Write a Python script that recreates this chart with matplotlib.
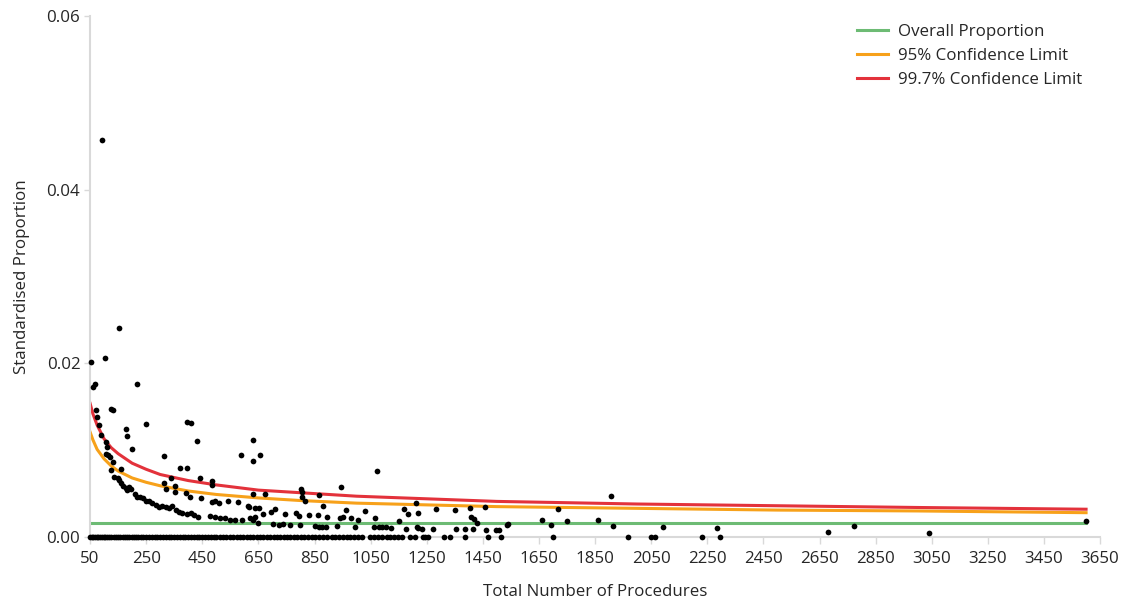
import matplotlib
matplotlib.use("Agg")
import matplotlib.pyplot as plt
from matplotlib.ticker import FormatStrFormatter

plt.rcParams['font.family'] = ['Open Sans', 'DejaVu Sans']

# units with at least one event: (total procedures, standardised proportion)
hosp_n = [93, 153, 103, 54, 62, 67, 217, 70, 126, 133, 73, 82, 88, 106, 112, 106, 114, 121,
          130, 124, 136, 148, 153, 159, 168, 177, 189, 183, 195,
          177, 183, 201, 249, 314, 371, 395, 397, 409, 430, 159, 314, 321, 340, 354, 354,
          391, 406, 441, 446, 483, 483, 483, 497, 509, 543, 576, 589, 614, 632, 632, 655,
          210, 216, 228, 240, 248, 260, 272, 284, 296, 308, 320, 332, 343, 355, 367, 379,
          397, 409, 421, 433, 479, 497, 514, 532, 550, 568, 591, 621,
          630, 672, 617, 638, 652, 638, 632, 650, 665, 694, 710, 701, 725, 736, 745, 763,
          784, 793, 798, 801, 807, 807, 817, 831, 851, 866, 878, 892, 861, 866, 880, 893,
          931, 943, 941, 950, 962, 980, 995, 1005, 1029, 1065, 1072, 1062, 1080, 1091, 1103,
          1124, 1152, 1170, 1176, 1184, 1213, 1217,
          1218, 1282, 1351, 1405, 1456, 1409, 1417, 1429, 1220, 1232, 1273, 1356, 1385, 1415,
          1460, 1497, 1509, 1535, 1541, 1660, 1693, 1717, 1749,
          1861, 1905, 1915, 2093, 2283, 2680, 2773, 3039, 3599]
hosp_p = [0.0457, 0.0241, 0.0206, 0.0202, 0.0173, 0.0176, 0.0176, 0.0146, 0.0147, 0.0146,
          0.0138, 0.0129, 0.0117, 0.0110, 0.0104, 0.0096, 0.0094, 0.0092,
          0.0086, 0.0077, 0.0069, 0.0068, 0.0066, 0.0062, 0.0059, 0.0056, 0.0058, 0.0054, 0.0055,
          0.0125, 0.0116, 0.0101, 0.0130, 0.0093, 0.0080, 0.0080, 0.0133, 0.0131, 0.0111,
          0.0078, 0.0062, 0.0055, 0.0068, 0.0059, 0.0052,
          0.0051, 0.0046, 0.0068, 0.0045, 0.0064, 0.0060, 0.0040, 0.0041, 0.0039, 0.0041,
          0.0040, 0.0094, 0.0036, 0.0112, 0.0088, 0.0094,
          0.0050, 0.0046, 0.0046, 0.0045, 0.0042, 0.0041, 0.0039, 0.0037, 0.0035, 0.0036,
          0.0035, 0.0033, 0.0036, 0.0031, 0.0029, 0.0028,
          0.0027, 0.0028, 0.0025, 0.0023, 0.0024, 0.0023, 0.0022, 0.0022, 0.0020, 0.0020,
          0.0020, 0.0022,
          0.0050, 0.0050, 0.0035, 0.0033, 0.0033, 0.0023, 0.0020, 0.0016, 0.0026, 0.0029,
          0.0032, 0.0015, 0.0014, 0.0015, 0.0026, 0.0014,
          0.0028, 0.0024, 0.0014, 0.0055, 0.0052, 0.0046, 0.0041, 0.0025, 0.0013, 0.0012,
          0.0012, 0.0012, 0.0025, 0.0048, 0.0036, 0.0023,
          0.0013, 0.0058, 0.0022, 0.0023, 0.0031, 0.0022, 0.0012, 0.0020, 0.0030, 0.0022,
          0.0076, 0.0011, 0.0011, 0.0011, 0.0011,
          0.0010, 0.0018, 0.0032, 0.0009, 0.0026, 0.0039, 0.0011,
          0.0028, 0.0032, 0.0031, 0.0033, 0.0035, 0.0023, 0.0021, 0.0016, 0.0010, 0.0009,
          0.0009, 0.0009, 0.0009, 0.0009,
          0.0008, 0.0008, 0.0008, 0.0014, 0.0015, 0.0020, 0.0014, 0.0032, 0.0018,
          0.0020, 0.0047, 0.0013, 0.0011, 0.0010, 0.0006, 0.0013, 0.0005, 0.0019]

# units with no events (plotted at 0)
zero_n = [50, 56, 62, 68, 74, 80, 86, 92, 98, 104, 110, 118, 126, 134, 142, 150, 158, 166,
          174, 182, 190, 198, 206, 214, 222, 230, 240, 250, 260, 270, 280, 290, 300, 310,
          320, 330, 340, 350, 360, 370, 380, 390, 400, 410, 420, 430, 440, 450, 460, 470,
          480, 490, 500, 512, 524, 536, 548, 560, 572, 584, 596, 608, 620, 632, 644, 656,
          668, 680, 692, 704, 716, 728, 740, 752, 764, 776, 788, 800, 812, 826, 840, 852,
          866, 880, 896, 911, 923, 937, 951, 965, 977, 991, 1005, 1018, 1048, 1062, 1076,
          1090, 1107, 1120, 1134, 1147, 1160, 1190, 1208, 1237, 1244, 1254, 1313, 1333,
          1386, 1469, 1514, 1701, 1968, 2049, 2064, 2230, 2295]

# control limits
limit_n = [50, 60, 75, 100, 125, 150, 200, 250, 300, 400, 500, 650, 800, 1000, 1250,
           1500, 2000, 2500, 3000, 3600]
limit_95 = [0.0121, 0.0112, 0.0101, 0.0090, 0.0082, 0.0076, 0.0068, 0.0063, 0.0059, 0.0053,
            0.0049, 0.0045, 0.0042, 0.0039, 0.0037, 0.0035, 0.0033, 0.0031, 0.0030, 0.0028]
limit_997 = [0.0154, 0.0142, 0.0129, 0.0113, 0.0103, 0.0096, 0.0085, 0.0078, 0.0072, 0.0065,
             0.0060, 0.0054, 0.0051, 0.0047, 0.0044, 0.0041, 0.0038, 0.0036, 0.0034, 0.0032]
overall_n = [50, 3600]
overall_p = [0.0016, 0.0016]

FS = 12.2
TXT = '#262626'

fig = plt.figure(figsize=(11.26, 6.01), dpi=100)
ax = fig.add_axes([0.080, 0.1065, 0.897, 0.8665])

ax.plot(overall_n, overall_p, color='#6dbb74', lw=2.2, label='Overall Proportion', zorder=2)
ax.plot(limit_n, limit_95, color='#f7a11a', lw=2.2, label='95% Confidence Limit', zorder=2)
ax.plot(limit_n, limit_997, color='#e3323b', lw=2.2, label='99.7% Confidence Limit', zorder=2)

ax.scatter(hosp_n + zero_n, hosp_p + [0] * len(zero_n), s=17, color='black',
           zorder=3, clip_on=False, linewidths=0)

ax.set_xlim(50, 3650)
ax.set_ylim(0, 0.06)
ax.set_xticks(range(50, 3651, 200))
ax.set_yticks([0, 0.02, 0.04, 0.06])
ax.yaxis.set_major_formatter(FormatStrFormatter('%.2f'))

for side in ['top', 'right']:
    ax.spines[side].set_visible(False)
ax.spines['left'].set_color('#d9d9d9')
ax.spines['left'].set_linewidth(1.5)
ax.spines['bottom'].set_color('#d9d9d9')
ax.spines['bottom'].set_linewidth(1.5)
ax.tick_params(axis='x', colors='#d9d9d9', length=5, width=1, labelcolor=TXT,
               labelsize=FS, pad=5)
ax.tick_params(axis='y', colors='#d9d9d9', length=4, width=1, labelcolor=TXT,
               labelsize=FS, pad=3)

ax.set_xlabel('Total Number of Procedures', fontsize=FS, color=TXT, labelpad=12)
ax.set_ylabel('Standardised Proportion', fontsize=FS, color=TXT, labelpad=12)

ax.legend(loc='upper left', bbox_to_anchor=(0.748, 0.985), bbox_transform=fig.transFigure,
          frameon=False, fontsize=FS, handlelength=1.8, handletextpad=0.57,
          labelspacing=0.45, labelcolor=TXT)

fig.savefig('out.png', dpi=100)
